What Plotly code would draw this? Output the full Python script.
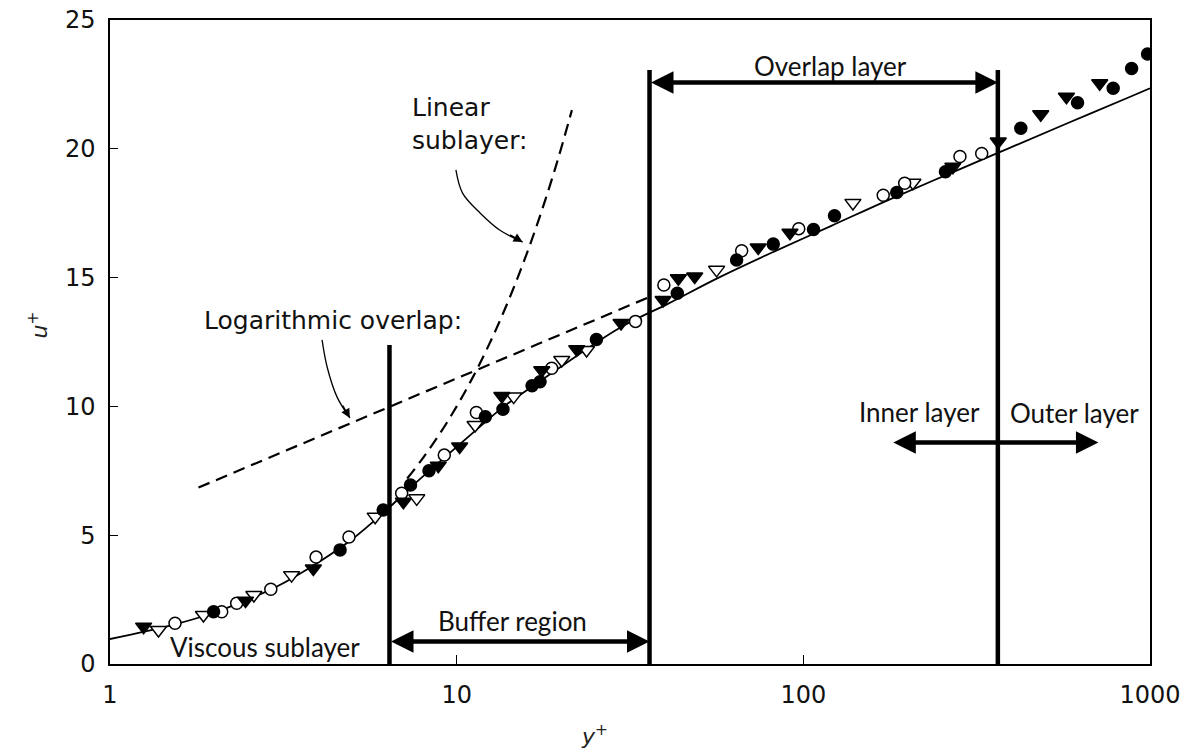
import math
import plotly.graph_objects as go

# ---------------- data ----------------
# law-of-the-wall solid curve (y+, u+)
curve_y = [1.0, 1.5, 2.0, 3.0, 4.05, 5.0, 6.3, 7.5, 9.2, 11.2, 13.7, 17.5, 22.4, 30,
           40.9, 57, 82, 120, 175, 260, 388, 580, 870, 1000]
curve_u = [0.97, 1.5, 2.0, 2.98, 4.0, 4.85, 6.0, 6.95, 8.0, 9.0, 10.0, 11.0, 12.0, 13.1,
           14.0, 15.0, 16.0, 17.0, 18.0, 19.0, 20.0, 21.0, 22.0, 22.35]

# dashed logarithmic overlap line
log_y = [1.8, 36]
log_u = [6.85, 14.25]

# dashed linear sublayer curve
lin_y = [7.2, 8, 9, 10, 11, 12, 13, 14, 15, 16, 17, 18, 19, 20, 21.5]
lin_u = [7.2, 8, 9, 10, 11, 12, 13, 14, 15, 16, 17, 18, 19, 20, 21.5]

# measurement markers
fc_y = [1.99, 4.61, 6.14, 7.36, 8.32, 12.1, 13.6, 16.5, 17.4, 25.3, 43.3, 64.2, 81.9,
        107, 123, 186, 257, 424, 618, 783, 885, 984]
fc_u = [2.03, 4.43, 5.98, 6.95, 7.5, 9.6, 9.89, 10.8, 10.96, 12.6, 14.39, 15.68, 16.3,
        16.87, 17.4, 18.3, 19.11, 20.8, 21.79, 22.35, 23.12, 23.68]

oc_y = [1.54, 2.10, 2.32, 2.91, 3.93, 4.89, 6.94, 9.21, 11.4, 18.8, 32.8, 39.6, 66.4,
        97, 170, 196, 283, 327]
oc_u = [1.58, 2.03, 2.36, 2.9, 4.15, 4.93, 6.63, 8.11, 9.76, 11.48, 13.3, 14.71, 16.04,
        16.9, 18.2, 18.66, 19.7, 19.82]

ft_y = [1.25, 2.46, 3.86, 7.02, 8.85, 10.2, 13.5, 17.6, 22.2, 29.8, 39.4, 43.6, 48.6,
        74.1, 91.5, 270, 365, 484, 574, 716]
ft_u = [1.45, 2.46, 3.71, 6.3, 7.7, 8.44, 10.4, 11.4, 12.22, 13.24, 14.13, 14.97, 15.04,
        16.17, 16.74, 19.3, 20.28, 21.34, 22.02, 22.54]

ot_y = [1.38, 1.86, 2.60, 3.34, 5.82, 7.67, 11.3, 14.6, 20.1, 23.7, 56.2, 139, 207]
ot_u = [1.32, 1.9, 2.68, 3.45, 5.72, 6.43, 9.28, 10.38, 11.8, 12.19, 15.3, 17.9, 18.68]

# region boundaries (vertical bars)
buffer_start = 6.4
buffer_end = 36
overlap_end = 364
buffer_bar_top = 12.38
overlap_bar_top = 23.06

# arrow levels
overlap_arrow_u = 22.57
buffer_arrow_u = 0.87
inout_arrow_u = 8.6
inout_left = 180
inout_right = 710

# curved pointer lines
lin_ptr_y = [9.95, 10.4, 11.7, 13.3, 15.5]
lin_ptr_u = [19.18, 18.28, 17.5, 16.85, 16.38]
log_ptr_y = [4.09, 4.23, 4.52, 4.92]
log_ptr_u = [12.58, 11.53, 10.36, 9.55]

x_ticks = [1, 10, 100, 1000]
y_ticks = [0, 5, 10, 15, 20, 25]

L = math.log10
fig = go.Figure()

# dashed reference lines
fig.add_trace(go.Scatter(x=log_y, y=log_u, mode='lines',
                         line=dict(color='black', width=2.2, dash='12px,7px')))
fig.add_trace(go.Scatter(x=lin_y, y=lin_u, mode='lines', line_shape='spline',
                         line=dict(color='black', width=2.2, dash='12px,7px')))
# solid curve
fig.add_trace(go.Scatter(x=curve_y, y=curve_u, mode='lines', line_shape='spline',
                         line=dict(color='black', width=1.8)))

# vertical bars
fig.add_trace(go.Scatter(x=[buffer_start, buffer_start], y=[0, buffer_bar_top], mode='lines',
                         line=dict(color='black', width=4.5)))
fig.add_trace(go.Scatter(x=[buffer_end, buffer_end], y=[0, overlap_bar_top], mode='lines',
                         line=dict(color='black', width=4.5)))
fig.add_trace(go.Scatter(x=[overlap_end, overlap_end], y=[0, overlap_bar_top], mode='lines',
                         line=dict(color='black', width=4.5)))

# curved pointer lines
fig.add_trace(go.Scatter(x=lin_ptr_y, y=lin_ptr_u, mode='lines', line_shape='spline',
                         line=dict(color='black', width=1.3)))
fig.add_trace(go.Scatter(x=log_ptr_y, y=log_ptr_u, mode='lines', line_shape='spline',
                         line=dict(color='black', width=1.3)))

# markers
mk = dict(line=dict(color='black', width=1.5))
fig.add_trace(go.Scatter(x=ot_y, y=ot_u, mode='markers',
                         marker=dict(symbol='triangle-down', size=14, color='white', **mk)))
fig.add_trace(go.Scatter(x=oc_y, y=oc_u, mode='markers',
                         marker=dict(symbol='circle', size=12, color='white', **mk)))
fig.add_trace(go.Scatter(x=ft_y, y=ft_u, mode='markers',
                         marker=dict(symbol='triangle-down', size=14, color='black', **mk)))
fig.add_trace(go.Scatter(x=fc_y, y=fc_u, mode='markers',
                         marker=dict(symbol='circle', size=12, color='black', **mk)))

ann = []
def dbl_arrow(x0, x1, yv):
    return dict(x=L(x1), y=yv, ax=L(x0), ay=yv, xref='x', yref='y', axref='x', ayref='y',
                text='', showarrow=True, arrowhead=2, startarrowhead=2, arrowside='end+start',
                arrowwidth=4.5, arrowsize=1, startarrowsize=1, arrowcolor='black',
                standoff=0, startstandoff=0)

ann.append(dbl_arrow(buffer_end, overlap_end, overlap_arrow_u))
ann.append(dbl_arrow(buffer_start, buffer_end, buffer_arrow_u))
ann.append(dbl_arrow(inout_left, inout_right, inout_arrow_u))

# pointer arrowheads
ann.append(dict(x=L(lin_ptr_y[-1]), y=lin_ptr_u[-1], ax=-14, ay=-8, text='', showarrow=True,
                arrowhead=2, arrowsize=1.4, arrowwidth=1.3, arrowcolor='black', standoff=0))
ann.append(dict(x=L(log_ptr_y[-1]), y=log_ptr_u[-1], ax=-8, ay=-14, text='', showarrow=True,
                arrowhead=2, arrowsize=1.4, arrowwidth=1.3, arrowcolor='black', standoff=0))

lab_font = dict(family='Lato', size=26, color='#111')
hel_font = dict(family='DejaVu Sans', size=25, color='#111')
def txt(text, xv, yv, font, xanchor='center', align='center'):
    return dict(x=L(xv), y=yv, xref='x', yref='y', text=text, showarrow=False,
                font=font, xanchor=xanchor, yanchor='middle', align=align)

ann.append(txt('Overlap layer', 119.4, 23.21, lab_font))
ann.append(txt('Buffer region', 14.5, 1.67, lab_font))
ann.append(txt('Viscous sublayer', 2.8, 0.66, lab_font))
ann.append(txt('Inner layer', 216.7, 9.78, lab_font))
ann.append(txt('Outer layer', 607, 9.74, lab_font))
ann.append(txt('Linear<br>sublayer:', 7.33, 20.98, hel_font, xanchor='left', align='left'))
ann.append(txt('Logarithmic overlap:', 4.4, 13.35, hel_font))

# axis titles
ann.append(dict(x=-0.069, y=0.526, xref='paper', yref='paper', text='<i>u</i><sup>+</sup>',
                xanchor='center', yanchor='middle',
                showarrow=False, textangle=-90, font=dict(family='DejaVu Sans', size=22, color='#222')))
ann.append(dict(x=0.466, y=-0.110, xref='paper', yref='paper', text='<i>y</i><sup>+</sup>',
                xanchor='center', yanchor='middle',
                showarrow=False, font=dict(family='DejaVu Sans', size=22, color='#222')))

fig.update_layout(
    width=1184, height=751,
    margin=dict(l=110, r=34, t=20, b=87, autoexpand=False),
    plot_bgcolor='white', paper_bgcolor='white',
    showlegend=False,
    annotations=ann,
    xaxis=dict(type='log', range=[0, 3], tickvals=x_ticks, ticktext=[str(v) for v in x_ticks],
               automargin=False,
               showgrid=False, zeroline=False, showline=True, mirror=True,
               linecolor='black', linewidth=1.5, ticks='inside', ticklen=9, tickwidth=1.2,
               tickcolor='black', ticklabelstandoff=8,
               tickfont=dict(family='DejaVu Sans', size=24, color='#111')),
    yaxis=dict(range=[0, 25], tickvals=y_ticks, showgrid=False, zeroline=False,
               automargin=False,
               showline=True, mirror=True, linecolor='black', linewidth=1.5,
               ticks='inside', ticklen=8, tickwidth=1.2, tickcolor='black',
               ticklabelstandoff=8,
               tickfont=dict(family='DejaVu Sans', size=24, color='#111')),
)

fig.write_html('out.html')
